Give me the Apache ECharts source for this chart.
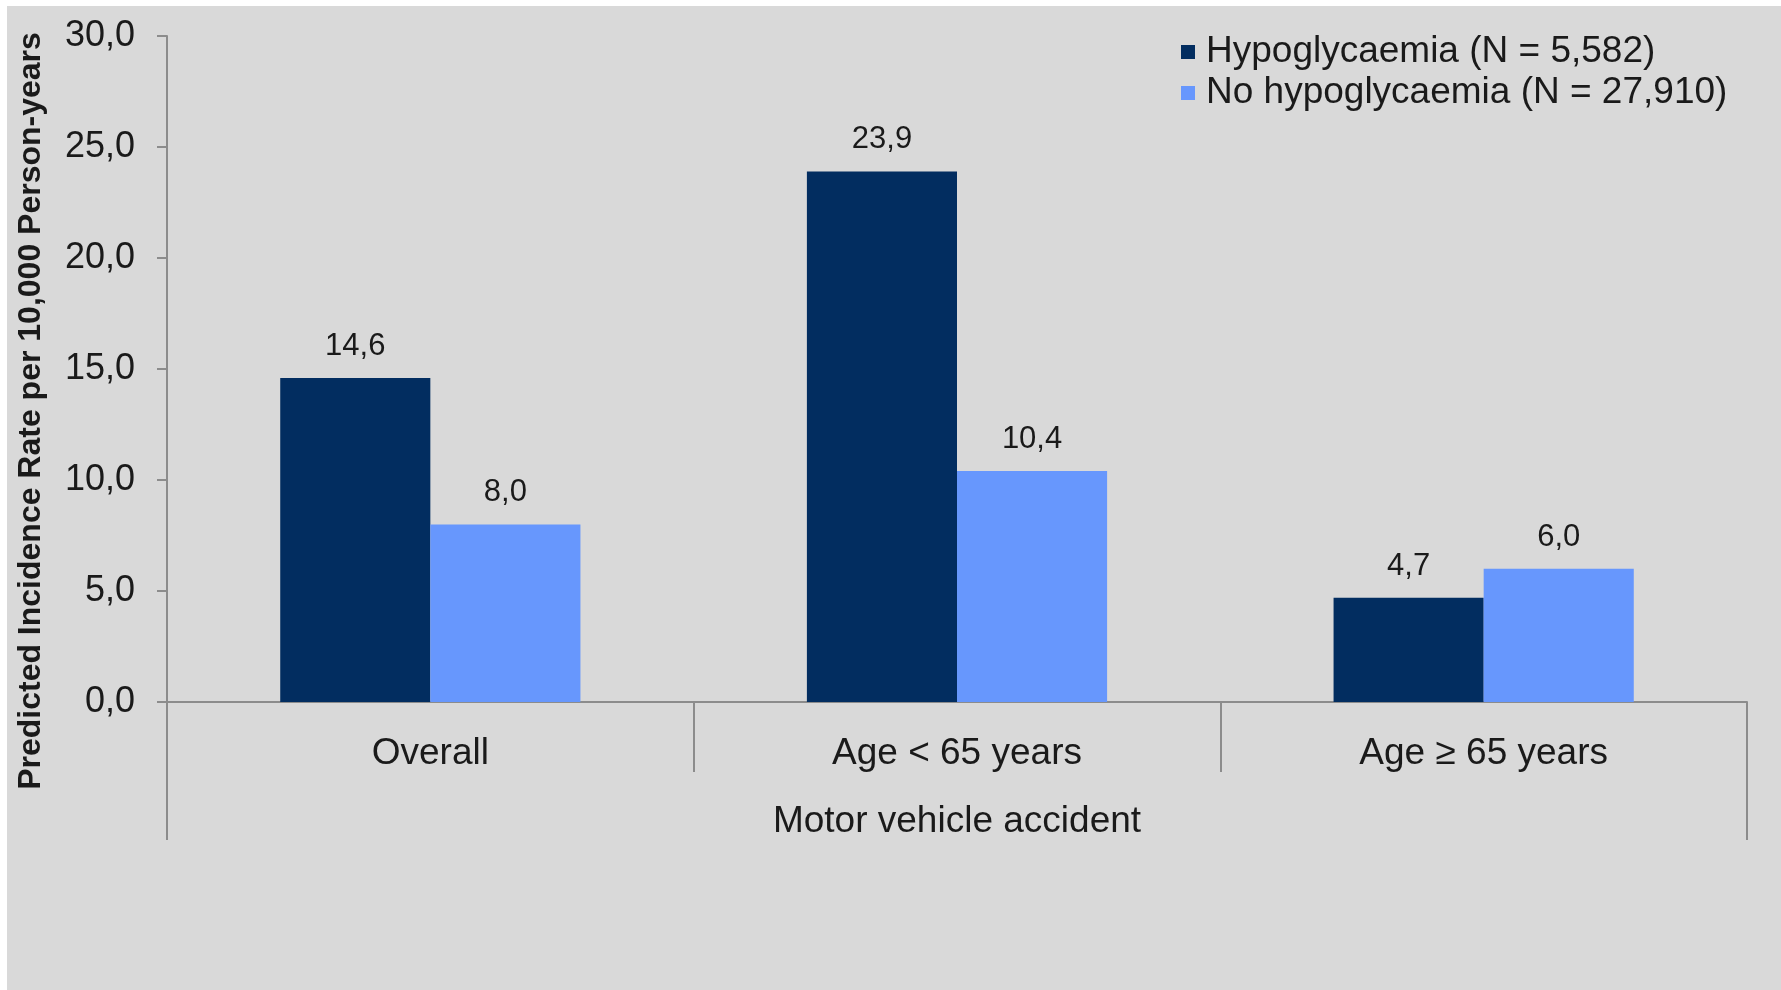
<!DOCTYPE html>
<html>
<head>
<meta charset="utf-8">
<script src="https://cdn.jsdelivr.net/npm/echarts@6/dist/echarts.min.js"></script>
<style>
html,body{margin:0;padding:0;background:#ffffff;}
#chart{position:absolute;left:7px;top:6px;width:1774px;height:984px;}
</style>
</head>
<body>
<div id="chart"></div>
<script>
const categories = ['Overall', 'Age < 65 years', 'Age ≥ 65 years'];
const groupLabel = ['Motor vehicle accident'];
const seriesNames = ['Hypoglycaemia (N = 5,582)', 'No hypoglycaemia (N = 27,910)'];
const hypoValues = [14.6, 23.9, 4.7];
const noHypoValues = [8.0, 10.4, 6.0];
const yTitle = 'Predicted Incidence Rate per 10,000 Person-years';

const FONT = "'Liberation Sans', Arial, sans-serif";
const TXT = '#1a1a1a';
const AX = '#8c8c8c';
const fmt = v => Number(v).toFixed(1).replace('.', ',');

const chart = echarts.init(document.getElementById('chart'));
chart.setOption({
  backgroundColor: '#d9d9d9',
  textStyle: { fontFamily: FONT },
  animation: false,
  legend: {
    orient: 'vertical',
    left: 1174,
    top: 26,
    padding: 0,
    itemGap: 1,
    itemWidth: 14,
    itemHeight: 14,
    icon: 'rect',
    textStyle: { fontSize: 37, color: TXT, fontFamily: FONT, lineHeight: 40, padding: [0,0,0,6] },
    data: seriesNames
  },
  grid: { left: 160, right: 34, top: 30, bottom: 288, containLabel: false },
  xAxis: [
    {
      type: 'category',
      data: categories,
      position: 'bottom',
      axisLine: { show: true, lineStyle: { color: AX, width: 2 } },
      axisTick: { show: true, length: 70, lineStyle: { color: AX, width: 2 } },
      axisLabel: { fontSize: 37, color: TXT, margin: 33, fontFamily: FONT }
    },
    {
      type: 'category',
      data: groupLabel,
      position: 'bottom',
      axisLine: { show: false },
      axisTick: { show: true, length: 138, lineStyle: { color: AX, width: 2 } },
      axisLabel: { fontSize: 37, color: TXT, margin: 101, fontFamily: FONT }
    }
  ],
  yAxis: {
    type: 'value',
    min: 0,
    max: 30,
    interval: 5,
    name: yTitle,
    nameLocation: 'middle',
    nameRotate: 90,
    nameGap: 120,
    nameTextStyle: { fontSize: 32, fontWeight: 'bold', color: TXT, fontFamily: FONT, padding: [0, 84, 0, 0] },
    axisLine: { show: true, lineStyle: { color: AX, width: 2 } },
    axisTick: { show: true, length: 10, lineStyle: { color: AX, width: 2 } },
    splitLine: { show: false },
    axisLabel: { fontSize: 36, color: TXT, margin: 32, fontFamily: FONT, formatter: fmt }
  },
  series: [
    {
      name: seriesNames[0],
      type: 'bar',
      xAxisIndex: 0,
      data: hypoValues,
      barGap: '0%',
      barCategoryGap: '43%',
      itemStyle: { color: '#022d60' },
      label: { show: true, position: 'top', distance: 16, fontSize: 31, color: TXT, fontFamily: FONT, formatter: p => fmt(p.value) }
    },
    {
      name: seriesNames[1],
      type: 'bar',
      xAxisIndex: 0,
      data: noHypoValues,
      barGap: '0%',
      barCategoryGap: '43%',
      itemStyle: { color: '#6797fd' },
      label: { show: true, position: 'top', distance: 16, fontSize: 31, color: TXT, fontFamily: FONT, formatter: p => fmt(p.value) }
    }
  ]
});
</script>
</body>
</html>
